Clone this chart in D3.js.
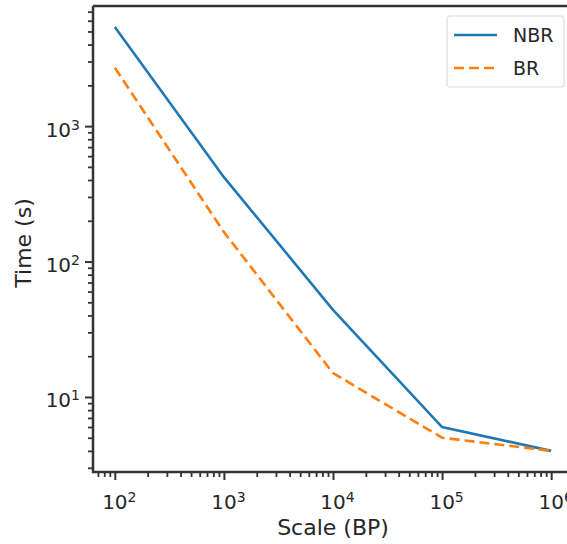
<!DOCTYPE html>
<html>
<head>
<meta charset="utf-8">
<script src="https://cdn.jsdelivr.net/npm/d3@7"></script>
<style>
body { margin: 0; background: #fff; }
text { font-family: "DejaVu Sans", sans-serif; fill: #262626; }
</style>
</head>
<body>
<div id="chart"></div>
<script>
// data
var scales = [1e2, 1e3, 1e4, 1e5, 1e6];
var nbr = [5400, 420, 44, 6.0, 4.0];
var br = [2700, 165, 15, 5.0, 4.0];
var xTicks = [1e2, 1e3, 1e4, 1e5, 1e6];
var yTicks = [1e1, 1e2, 1e3];

var W = 567, H = 544;
var margin = {top: 6, right: -6, bottom: 72, left: 93};
var width = W - margin.left - margin.right,
	height = H - margin.top - margin.bottom;

var svg = d3.select('#chart').append('svg')
	.attr('width', W).attr('height', H)
	.append('g')
	.attr('transform', 'translate(' + margin.left + ',' + margin.top + ')');

// matplotlib-ish 5% margins in log space
var xx = d3.scaleLog().domain([Math.pow(10, 1.8), Math.pow(10, 6.2)]).range([0, width]);
var yy = d3.scaleLog().domain([Math.pow(10, 0.446), Math.pow(10, 3.887)]).range([height, 0]);

function minors(lo, hi) {
	var out = [];
	for (var e = Math.floor(Math.log10(lo)); e <= Math.ceil(Math.log10(hi)); e++) {
		for (var k = 2; k <= 9; k++) {
			var v = k * Math.pow(10, e);
			if (v >= lo && v <= hi) out.push(v);
		}
	}
	return out;
}

var axisCol = '#333';

// minor ticks
svg.append('g').attr('transform', 'translate(0,' + height + ')')
	.call(d3.axisBottom(xx).tickValues(minors(xx.domain()[0], xx.domain()[1])).tickSize(5).tickFormat(''))
	.call(function(g){ g.select('.domain').remove(); g.selectAll('line').attr('stroke', axisCol).attr('stroke-width', 1.8); });
svg.append('g')
	.call(d3.axisLeft(yy).tickValues(minors(yy.domain()[0], yy.domain()[1])).tickSize(5).tickFormat(''))
	.call(function(g){ g.select('.domain').remove(); g.selectAll('line').attr('stroke', axisCol).attr('stroke-width', 1.8); });

function sup(sel) {
	sel.selectAll('text').each(function(d) {
		var t = d3.select(this);
		t.text('');
		t.append('tspan').text('10');
		t.append('tspan').attr('dy', '-0.5em').style('font-size', '14px').text(Math.round(Math.log10(d)));
	});
}

// major ticks
var xAxis = svg.append('g').attr('transform', 'translate(0,' + height + ')')
	.call(d3.axisBottom(xx).tickValues(xTicks).tickSize(8))
	.call(function(g){
		g.select('.domain').remove();
		g.selectAll('line').attr('stroke', axisCol).attr('stroke-width', 2);
		g.selectAll('text').style('font-size', '20px').attr('y', 37).attr('dy', 0).attr('dx', '0.2em');
	})
	.call(sup);

var yAxis = svg.append('g')
	.call(d3.axisLeft(yy).tickValues(yTicks).tickSize(8))
	.call(function(g){
		g.select('.domain').remove();
		g.selectAll('line').attr('stroke', axisCol).attr('stroke-width', 2);
		g.selectAll('text').style('font-size', '20px').attr('x', -13).attr('dy', 10);
	})
	.call(sup);

// spines
svg.append('path')
	.attr('d', 'M0,0H' + width + 'M0,0V' + height + 'H' + width)
	.attr('fill', 'none').attr('stroke', axisCol).attr('stroke-width', 2.5);

// lines
var line = d3.line()
	.x(function(d) { return xx(d[0]); })
	.y(function(d) { return yy(d[1]); });

svg.append('path')
	.datum(d3.zip(scales, nbr))
	.attr('fill', 'none').attr('stroke', '#1f77b4')
	.attr('stroke-width', 2.6)
	.attr('d', line);

svg.append('path')
	.datum(d3.zip(scales, br))
	.attr('fill', 'none').attr('stroke', '#ff7f0e')
	.attr('stroke-width', 2.6)
	.attr('stroke-dasharray', '10,5')
	.attr('d', line);

// axis labels
svg.append('text')
	.attr('x', width / 2).attr('y', height + 63)
	.attr('text-anchor', 'middle')
	.style('font-size', '22px')
	.text('Scale (BP)');
svg.append('text')
	.attr('transform', 'translate(' + (-62) + ',' + (height / 2 + 4) + ') rotate(-90)')
	.attr('text-anchor', 'middle')
	.style('font-size', '22px')
	.text('Time (s)');

// legend
var lg = d3.select('svg').append('g').attr('transform', 'translate(447,16)');
lg.append('rect')
	.attr('width', 117).attr('height', 71).attr('rx', 3)
	.attr('fill', '#fff').attr('stroke', '#ddd').attr('stroke-width', 1.2);
var entries = [['NBR', '#1f77b4', null], ['BR', '#ff7f0e', '10,5']];
entries.forEach(function(e, i) {
	var y = 19 + i * 33;
	lg.append('line').attr('x1', 7).attr('x2', 50).attr('y1', y).attr('y2', y)
		.attr('stroke', e[1]).attr('stroke-width', 2.6)
		.attr('stroke-dasharray', e[2]);
	lg.append('text').attr('x', 66).attr('y', y).attr('dy', '0.36em')
		.style('font-size', '19px').text(e[0]);
});
</script>
</body>
</html>
